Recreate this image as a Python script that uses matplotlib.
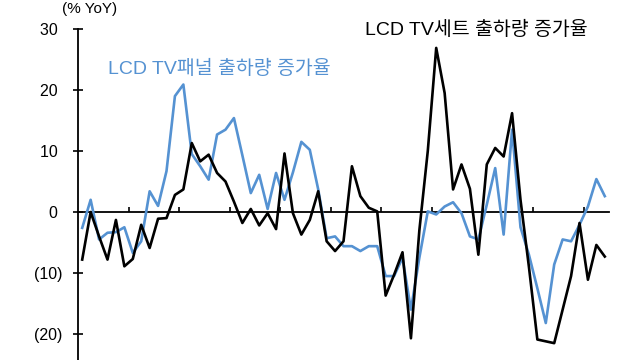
#!/usr/bin/env python3
"""LCD TV set vs. panel shipment growth (% YoY), monthly."""
import matplotlib
matplotlib.use("Agg")
import matplotlib.pyplot as plt
import numpy as np

# LCD TV세트 출하량 증가율 (% YoY)
set_growth = [
    -7.8, 0.0, -4.0, -7.8, -1.3, -8.9, -7.7, -2.1, -5.9, -1.1,
    -1.0, 2.8, 3.7, 11.3, 8.3, 9.4, 6.4, 5.0, 1.7, -1.8,
    0.5, -2.2, -0.2, -2.8, 9.6, -0.2, -3.7, -1.3, 3.4, -4.8,
    -6.4, -4.8, 7.5, 2.6, 0.7, 0.1, -13.7, -10.3, -6.6, -20.7,
    -3.0, 10.0, 26.9, 19.5, 3.7, 7.8, 3.8, -7.0, 7.8, 10.5,
    9.1, 16.2, 2.0, -9.0, -20.9, -21.2, -21.5, -16.0, -10.5, -1.8,
    -11.1, -5.4, -7.3,
]
# LCD TV패널 출하량 증가율 (% YoY)
panel_growth = [
    -2.6, 2.0, -4.5, -3.4, -3.3, -2.5, -6.7, -4.8, 3.4, 1.0,
    6.7, 19.0, 20.9, 9.5, 7.5, 5.3, 12.7, 13.5, 15.4, 9.3,
    3.1, 6.1, 0.5, 6.4, 2.0, 6.5, 11.5, 10.2, 3.7, -4.3,
    -4.0, -5.6, -5.6, -6.4, -5.6, -5.6, -10.5, -10.5, -7.5, -16.0,
    -7.5, 0.1, -0.4, 0.9, 1.6, -0.2, -4.0, -4.5, 1.2, 7.2,
    -3.7, 13.5, -2.5, -7.0, -12.5, -18.2, -8.6, -4.5, -4.8, -2.1,
    0.9, 5.4, 2.6,
]
y_ticks = [30, 20, 10, 0, -10, -20]

BLUE = "#5592D2"
LATIN_KR = ["Liberation Sans", "Noto Sans CJK KR"]


def fmt_tick(v):
    # Excel style "0_);(0)"
    return f"({abs(v):.0f})" if v < 0 else f"{v:.0f} "


def main():
    plt.rcParams["font.family"] = LATIN_KR
    fig = plt.figure(figsize=(6.4, 3.6), dpi=100)
    ax = fig.add_axes([78 / 640, 0.0, 531 / 640, 331 / 360])

    x = np.arange(len(set_growth))
    ax.plot(x, panel_growth, color=BLUE, lw=1.9, zorder=3)
    ax.plot(x, set_growth, color="black", lw=1.9, zorder=4)

    ax.set_xlim(-0.5, len(set_growth) - 0.5)
    ax.set_ylim(-24.26, 30)

    for side in ("top", "right"):
        ax.spines[side].set_visible(False)
    ax.spines["left"].set_linewidth(1.3)
    ax.spines["bottom"].set_position(("data", 0))
    ax.spines["bottom"].set_linewidth(1.3)
    ax.spines["bottom"].set_zorder(1)

    # category boundaries every 6 months
    ax.set_xticks(np.arange(5.5, len(set_growth) - 0.5, 6))
    ax.tick_params(axis="x", direction="in", length=3.5, width=1.2, labelbottom=False)

    ax.set_yticks(y_ticks)
    ax.set_yticklabels([fmt_tick(v) for v in y_ticks])
    ax.tick_params(axis="y", direction="inout", length=7, width=1.2, pad=8, labelsize=11.5)

    fig.text(90 / 640, 1 - 9 / 360, "(% YoY)", ha="center", va="center", fontsize=11)
    fig.text(365 / 640, 1 - 30 / 360, "LCD TV세트 출하량 증가율", ha="left", va="center",
             fontsize=14, color="black")
    fig.text(108 / 640, 1 - 69 / 360, "LCD TV패널 출하량 증가율", ha="left", va="center",
             fontsize=14, color=BLUE)

    fig.savefig("out.png", dpi=100)
    plt.close(fig)


if __name__ == "__main__":
    main()
